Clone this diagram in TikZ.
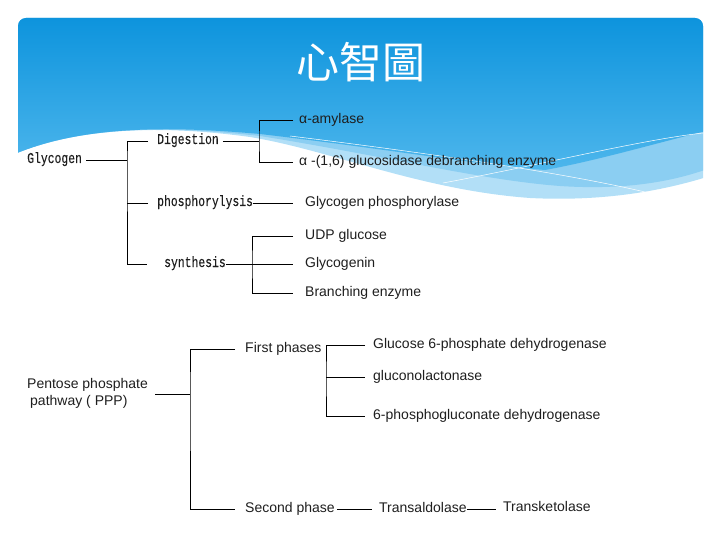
\documentclass[tikz,border=0pt]{standalone}
\usepackage{xcolor}
\usepackage{fontspec}
\usepackage{tikz}
\usetikzlibrary{positioning}
\setmainfont{Liberation Sans}
\newfontfamily\monofont[FakeStretch=0.76, FakeBold=0.2]{Liberation Mono}
\newfontfamily\cjkfont{Noto Sans CJK TC}
\definecolor{hdtop}{HTML}{0A92DC}
\definecolor{hdbot}{HTML}{4DB6EC}
\definecolor{hdmid}{HTML}{8BCEF2}
\definecolor{hdlight}{HTML}{B2DFF7}
\definecolor{ink}{HTML}{1E1E1E}

\begin{document}
\begin{tikzpicture}[
  x=1pt, y=-1pt,
  mono/.style={anchor=west, inner xsep=0pt, inner ysep=1pt, text height=9pt, text depth=3pt, text=ink, font=\monofont\fontsize{15}{17}\selectfont},
  lbl/.style={anchor=west, inner xsep=0pt, inner ysep=1pt, text height=10pt, text depth=3pt, text=ink, font=\fontsize{14}{17}\selectfont},
  link/.style={draw=black, line width=0.9pt}
]
\useasboundingbox (0,0) rectangle (720,540);
% header band
\begin{scope}
\clip[rounded corners=8pt] (18,18) rectangle (703,260);
\fill[hdlight] (10,10) -- (710,10) -- (710,176) .. controls (650,195) and (590,201) .. (530,198)
  .. controls (420,190) and (330,150) .. (250,137) .. controls (170,126) and (80,125) .. (10,156) -- cycle;
\fill[hdmid] (10,10) -- (710,10) -- (710,168) .. controls (670,183) and (620,190) .. (560,186)
  .. controls (480,180) and (380,155) .. (260,136) .. controls (170,126) and (80,125) .. (10,156) -- cycle;
\shade[top color=hdtop, bottom color=hdbot] (10,10) -- (710,10) -- (710,130) .. controls (660,142) and (600,160) .. (545,170)
  .. controls (480,165) and (380,148) .. (260,134) .. controls (170,126) and (80,125) .. (10,156) -- cycle;
\draw[white, line width=0.5pt] (290,136) .. controls (420,152) and (560,172) .. (645,192);
\draw[white, line width=0.5pt] (443,183) .. controls (540,165) and (640,140) .. (703,133);
\end{scope}
\node[text=white, font=\cjkfont\fontsize{43}{43}\selectfont] (title) at (361,62) {心智圖};

% glycogen
\node[mono] (glycogen) at (27,160) {Glycogen};
\node[mono] (digestion) at (157,141) {Digestion};
\node[mono] (phos) at (157,203) {phosphorylysis};
\node[mono] (synthesis) at (164,264) {synthesis};
\node[lbl] (amylase) at (299,120) {α-amylase};
\node[lbl] (debranch) at (299,162) {α -(1,6) glucosidase debranching enzyme};
\node[lbl] (gphos) at (305,203) {Glycogen phosphorylase};
\node[lbl] (udp) at (305,236) {UDP glucose};
\node[lbl] (genin) at (305,264) {Glycogenin};
\node[lbl] (branch) at (305,293) {Branching enzyme};
\coordinate (jg) at (127,160);
\coordinate (jd) at (259,141);
\coordinate (js) at (252,264);
\draw[link] ([xshift=4pt]glycogen.east) -- (jg);
\draw[link] ([xshift=-9pt]digestion.west) -| (jg) |- ([xshift=-17pt]synthesis.west);
\draw[link] ([xshift=-9pt]phos.west) -- (jg |- phos.west);
\draw[link] ([xshift=4pt]digestion.east) -- (jd);
\draw[link] ([xshift=-6pt]amylase.west) -| (jd) |- ([xshift=-6pt]debranch.west);
\draw[link] (phos.east) -- ([xshift=-12pt]gphos.west);
\draw[link] (synthesis.east) -- ([xshift=-12pt]genin.west);
\draw[link] ([xshift=-12pt]udp.west) -| (js) |- ([xshift=-12pt]branch.west);

% pentose phosphate pathway
\node[lbl, align=left, text height=, text depth=] (ppp) at (27,393) {Pentose phosphate\\\hspace{3pt}pathway ( PPP)};
\node[lbl] (first) at (245,349) {First phases};
\node[lbl] (second) at (245,509) {Second phase};
\node[lbl] (g6pd) at (373,345) {Glucose 6-phosphate dehydrogenase};
\node[lbl] (glac) at (373,377) {gluconolactonase};
\node[lbl] (pgd) at (373,416) {6-phosphogluconate dehydrogenase};
\node[lbl] (taldo) at (379,509) {Transaldolase};
\node[lbl] (tketo) at (503,508) {Transketolase};
\coordinate (jp) at (190,394);
\coordinate (jf) at (326,377);
\draw[link] ([xshift=7pt]ppp.east |- jp) -- (jp);
\draw[link] ([xshift=-10pt]first.west) -| (jp) |- ([xshift=-10pt]second.west);
\draw[link] ([xshift=-8pt]g6pd.west) -| (jf) |- ([xshift=-8pt]pgd.west);
\draw[link] (jf) -- ([xshift=-8pt]glac.west);
\draw[link] ([xshift=2pt]second.east) -- ([xshift=-7pt]taldo.west);
\draw[link] (taldo.east) -- ([xshift=-7pt]tketo.west |- taldo.east);
\end{tikzpicture}
\end{document}
